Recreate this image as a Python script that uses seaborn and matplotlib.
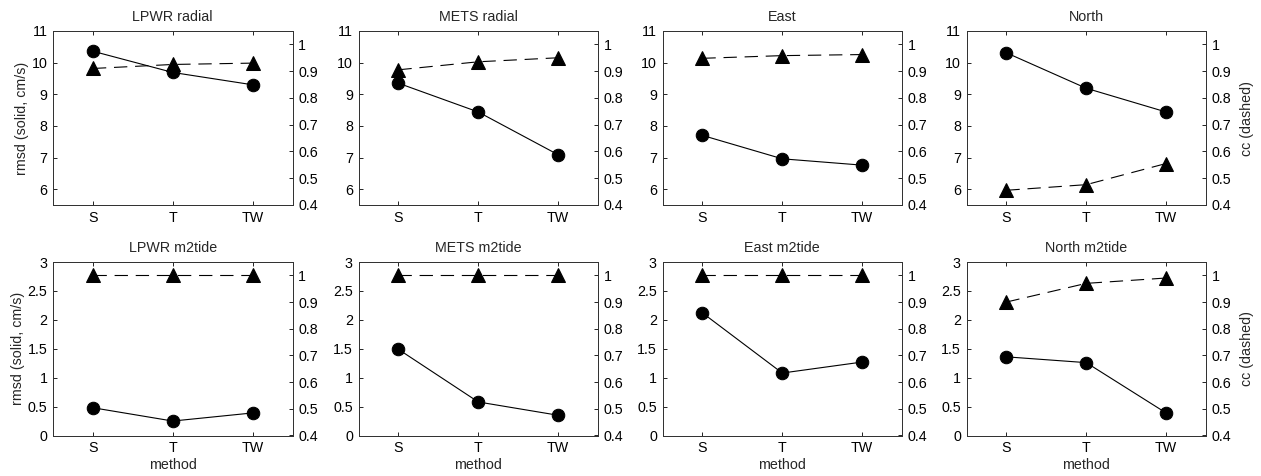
import matplotlib
matplotlib.use("Agg")
import matplotlib.pyplot as plt
import seaborn as sns

sns.set_theme(style="ticks")
plt.rcParams["font.family"] = ["Liberation Sans", "DejaVu Sans"]
plt.rcParams["font.size"] = 10.3

methods = ["S", "T", "TW"]

titles = ["LPWR radial", "METS radial", "East", "North",
          "LPWR m2tide", "METS m2tide", "East m2tide", "North m2tide"]

# rmsd (solid, cm/s)
rmsd_lpwr_radial = [10.36, 9.69, 9.30]
rmsd_mets_radial = [9.35, 8.44, 7.09]
rmsd_east = [7.70, 6.96, 6.76]
rmsd_north = [10.31, 9.19, 8.44]
rmsd_lpwr_m2 = [0.48, 0.25, 0.39]
rmsd_mets_m2 = [1.49, 0.58, 0.35]
rmsd_east_m2 = [2.12, 1.08, 1.27]
rmsd_north_m2 = [1.36, 1.26, 0.39]

# cc (dashed)
cc_lpwr_radial = [0.91, 0.925, 0.93]
cc_mets_radial = [0.905, 0.935, 0.95]
cc_east = [0.948, 0.958, 0.962]
cc_north = [0.455, 0.476, 0.555]
cc_lpwr_m2 = [1.0, 1.0, 1.0]
cc_mets_m2 = [1.0, 1.0, 1.0]
cc_east_m2 = [1.0, 1.0, 1.0]
cc_north_m2 = [0.90, 0.97, 0.99]

rmsd_all = [rmsd_lpwr_radial, rmsd_mets_radial, rmsd_east, rmsd_north,
            rmsd_lpwr_m2, rmsd_mets_m2, rmsd_east_m2, rmsd_north_m2]
cc_all = [cc_lpwr_radial, cc_mets_radial, cc_east, cc_north,
          cc_lpwr_m2, cc_mets_m2, cc_east_m2, cc_north_m2]

top_yticks = [6, 7, 8, 9, 10, 11]
bot_yticks = [0, 0.5, 1, 1.5, 2, 2.5, 3]
bot_yticklabels = ["0", "0.5", "1", "1.5", "2", "2.5", "3"]
cc_ticks = [0.4, 0.5, 0.6, 0.7, 0.8, 0.9, 1.0]
cc_ticklabels = ["0.4", "0.5", "0.6", "0.7", "0.8", "0.9", "1"]

W, H = 1261, 476
fig = plt.figure(figsize=(W / 100, H / 100), dpi=100)

lefts = [53, 358.5, 662.5, 966.5]
width = 239.5
rows = [(31, 205), (262, 435.5)]

for i in range(8):
    r, c = divmod(i, 4)
    top, bot = rows[r]
    ax = fig.add_axes([lefts[c] / W, 1 - bot / H, width / W, (bot - top) / H])
    ax2 = ax.twinx()

    sns.lineplot(x=methods, y=rmsd_all[i], ax=ax, sort=False, color="black",
                 linewidth=0.8, marker="o", markersize=9,
                 markerfacecolor="black", markeredgecolor="black")
    sns.lineplot(x=methods, y=cc_all[i], ax=ax2, sort=False, color="black",
                 linewidth=0.8, linestyle=(0, (12, 7)), marker="^", markersize=9.5,
                 markerfacecolor="black", markeredgecolor="black")

    ax.set_xlim(-0.5, 2.5)
    ax.set_xticks(range(len(methods)))
    ax.set_xticklabels(methods)
    if r == 0:
        ax.set_ylim(5.5, 11)
        ax.set_yticks(top_yticks)
    else:
        ax.set_ylim(0, 3)
        ax.set_yticks(bot_yticks)
        ax.set_yticklabels(bot_yticklabels)
    ax2.set_ylim(0.4, 1.05)
    ax2.set_yticks(cc_ticks)
    ax2.set_yticklabels(cc_ticklabels)

    for a in (ax, ax2):
        a.tick_params(direction="in", length=3, width=0.6, labelsize=10.3,
                      colors="black", pad=4)
        for s in a.spines.values():
            s.set_linewidth(0.7)
            s.set_visible(True)
            s.set_color("#333333")
    ax.tick_params(axis="x", top=True)
    ax.set_title(titles[i], fontsize=10.3, pad=7)
    ax.set_xlabel("method" if r == 1 else "", fontsize=10.3, labelpad=2)
    ax.set_ylabel("rmsd (solid, cm/s)" if c == 0 else "", fontsize=10.3, labelpad=2)
    ax2.set_ylabel("cc (dashed)" if c == 3 else "", fontsize=10.3, labelpad=6)
    ax.grid(False)
    ax2.grid(False)

fig.savefig("out.png", dpi=100)
